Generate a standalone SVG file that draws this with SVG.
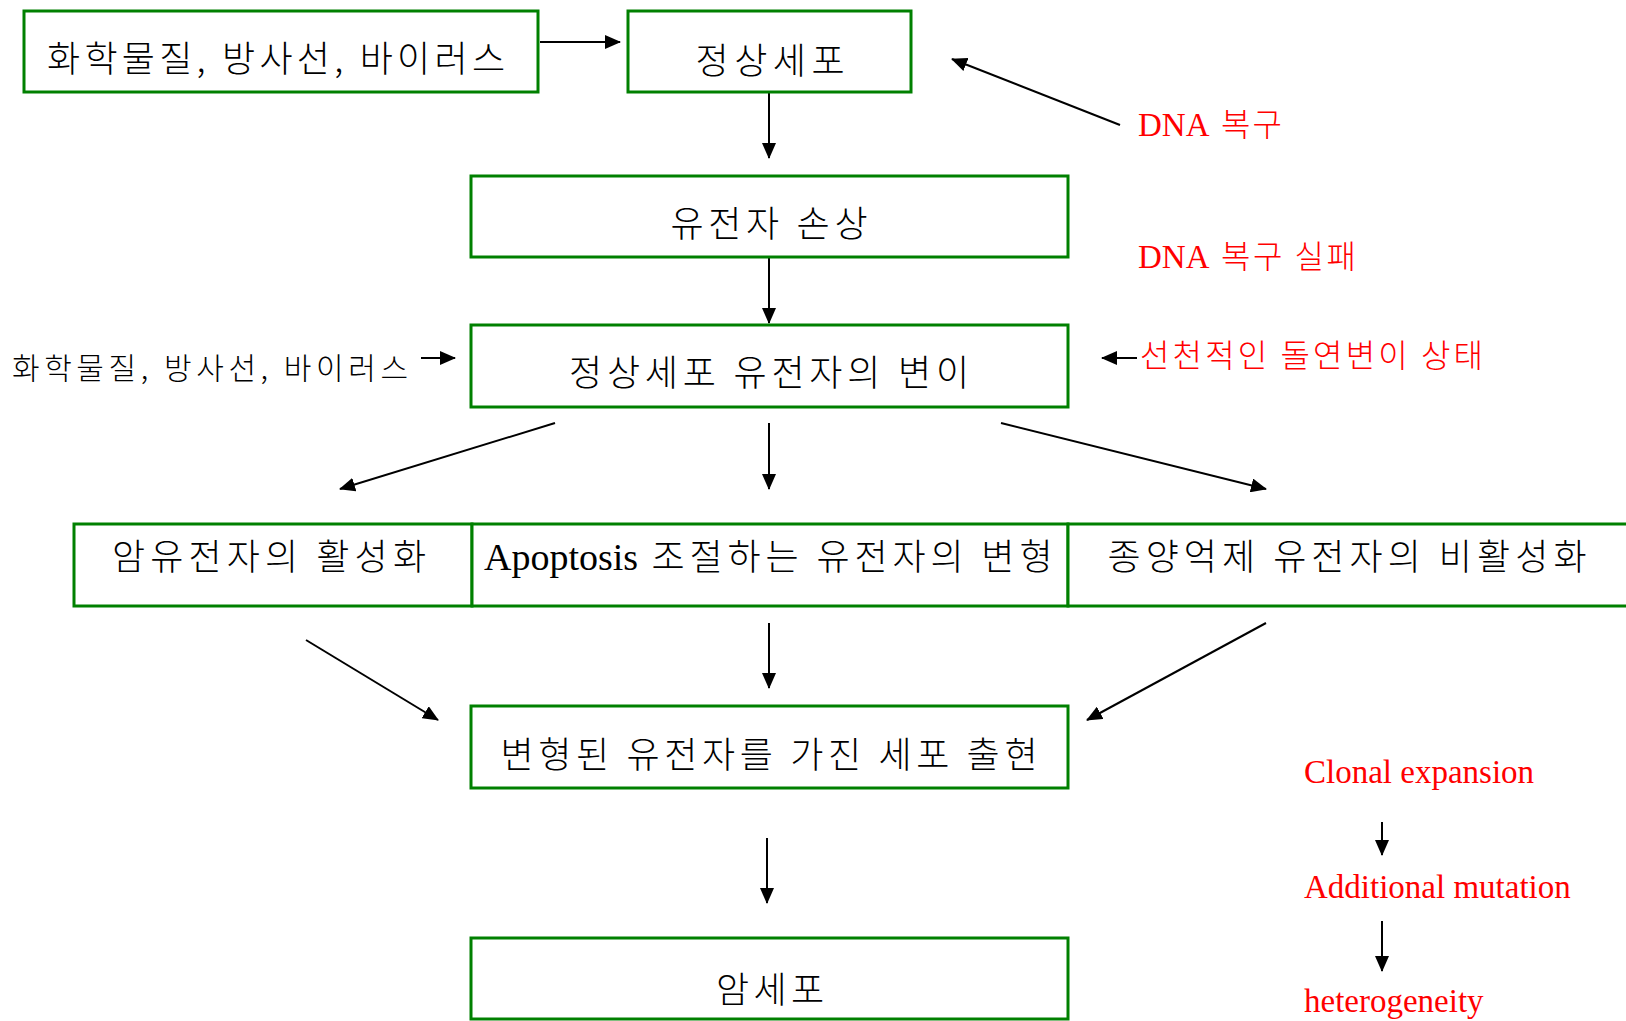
<svg xmlns="http://www.w3.org/2000/svg" width="1626" height="1021" viewBox="0 0 1626 1021">
<style>
.box{fill:#fff;stroke:#008000;stroke-width:3}
.kt{font-family:"Noto Sans CJK KR","Noto Sans",sans-serif;font-size:36px;font-weight:300;fill:#000;text-anchor:middle}
.ks{font-family:"Noto Sans CJK KR","Noto Sans",sans-serif;font-size:30px;font-weight:300;fill:#000}
.red{font-family:"Liberation Serif","Noto Sans CJK KR",serif;font-size:33px;fill:#ff0000}
.rk{font-family:"Noto Sans CJK KR","Noto Sans",sans-serif;font-size:32px;font-weight:300;fill:#ff0000}
.ln{stroke:#000;stroke-width:2;fill:none;marker-end:url(#ah)}
</style>
<defs>
<marker id="ah" markerUnits="userSpaceOnUse" markerWidth="16" markerHeight="14" refX="15" refY="7" orient="auto">
<path d="M0,0 L16,7 L0,14 Z" fill="#000"/>
</marker>
</defs>
<rect width="1626" height="1021" fill="#fff"/>
<g id="connectors">
<line class="ln" x1="540" y1="42" x2="620" y2="42"/>
<line class="ln" x1="769" y1="93" x2="769" y2="158"/>
<line class="ln" x1="1120" y1="125" x2="952" y2="59"/>
<line class="ln" x1="769" y1="258" x2="769" y2="323"/>
<line class="ln" x1="421" y1="358" x2="455" y2="358"/>
<line class="ln" x1="1137" y1="358" x2="1102" y2="358"/>
<line class="ln" x1="555" y1="423" x2="340" y2="489"/>
<line class="ln" x1="769" y1="423" x2="769" y2="489"/>
<line class="ln" x1="1001" y1="423" x2="1266" y2="489"/>
<line class="ln" x1="306" y1="640" x2="438" y2="720"/>
<line class="ln" x1="769" y1="623" x2="769" y2="688"/>
<line class="ln" x1="1266" y1="623" x2="1087" y2="720"/>
<line class="ln" x1="767" y1="838" x2="767" y2="903"/>
<line class="ln" x1="1382" y1="822" x2="1382" y2="855"/>
<line class="ln" x1="1382" y1="921" x2="1382" y2="971"/>
</g>
<g id="n1"><rect class="box" x="24" y="11" width="514" height="81"/><text class="kt" x="276" y="72" textLength="458">화학물질, 방사선, 바이러스</text></g>
<g id="n2"><rect class="box" x="628" y="11" width="283" height="81"/><text class="kt" x="770" y="74" textLength="149">정상세포</text></g>
<g id="n3"><rect class="box" x="471" y="176" width="597" height="81"/><text class="kt" x="769" y="237" textLength="197">유전자 손상</text></g>
<g id="n4"><rect class="box" x="471" y="325" width="597" height="82"/><text class="kt" x="769" y="386" textLength="400">정상세포 유전자의 변이</text></g>
<g id="n5"><rect class="box" x="74" y="524" width="398" height="82"/><text class="kt" x="269" y="570" textLength="314">암유전자의 활성화</text></g>
<g id="n6"><rect class="box" x="472" y="524" width="596" height="82"/><text x="484" y="570" style="font-family:'Liberation Serif',serif;font-size:38px">Apoptosis</text><text class="kt" x="852" y="570" textLength="401">조절하는 유전자의 변형</text></g>
<g id="n7"><rect class="box" x="1068" y="524" width="600" height="82"/><text class="kt" x="1347" y="570" textLength="479">종양억제 유전자의 비활성화</text></g>
<g id="n8"><rect class="box" x="471" y="706" width="597" height="82"/><text class="kt" x="769" y="768" textLength="537">변형된 유전자를 가진 세포 출현</text></g>
<g id="n9"><rect class="box" x="471" y="938" width="597" height="81"/><text class="kt" x="770" y="1003" textLength="108">암세포</text></g>
<g id="labels">
<text class="ks" x="12" y="379" textLength="396">화학물질, 방사선, 바이러스</text>
<text class="red" x="1138" y="136">DNA <tspan class="rk" x="1221" textLength="61">복구</tspan></text>
<text class="red" x="1138" y="268">DNA <tspan class="rk" x="1221" textLength="135">복구 실패</tspan></text>
<text class="rk" x="1140" y="367" textLength="343">선천적인 돌연변이 상태</text>
<text class="red" x="1304" y="783">Clonal expansion</text>
<text class="red" x="1304" y="898">Additional mutation</text>
<text class="red" x="1304" y="1012">heterogeneity</text>
</g>
</svg>
